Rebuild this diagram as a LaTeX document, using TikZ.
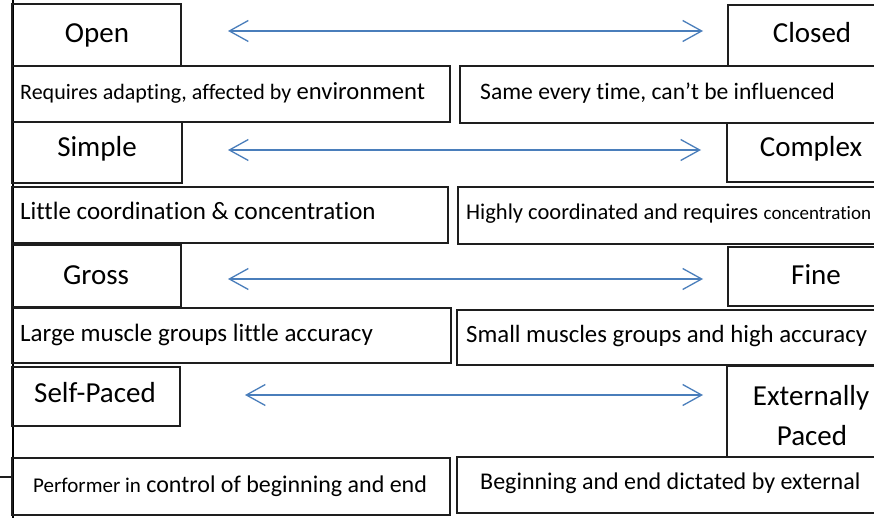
\documentclass[tikz,border=0pt]{standalone}
\usepackage{fontspec}
\setmainfont{Carlito}[Ligatures={NoCommon}]
\usetikzlibrary{arrows.meta}
\definecolor{arrblue}{RGB}{74,126,187}
\definecolor{ln}{RGB}{30,30,30}
\newcommand{\fsz}[1]{\fontsize{#1}{#1}\selectfont}
\begin{document}
\begin{tikzpicture}[x=1pt,y=-1pt,
  bx/.style={draw=ln,line width=1.2pt},
  lab/.style={anchor=base,inner sep=0pt,font=\fontsize{29}{33}\selectfont},
  dsc/.style={anchor=base west,inner sep=0pt,font=\fontsize{24}{28}\selectfont},
  arr/.style={draw=arrblue,line width=1.3pt,{Straight Barb[length=19pt,width=21pt]}-{Straight Barb[length=19pt,width=21pt]}}]
\useasboundingbox (0,0) rectangle (874,518);
\clip (0,0) rectangle (874,518);
\fill[white] (0,0) rectangle (874,518);
% frame line on the left
\draw[black,line width=2pt] (12.5,0) -- (12.5,518);
\draw[ln,line width=1.2pt] (0,477) -- (12.5,477);
% row 1
\draw[bx] (12,4) rectangle (181,66);
\draw[bx] (728,5) rectangle (880,66);
\draw[bx] (12,66) rectangle (450,122);
\draw[bx] (460,66) rectangle (880,123);
\node[lab] (open) at (97,43) {Open};
\node[lab] (closed) at (812,43) {Closed};
\node[dsc] (d1l) at (20,100) {{\fsz{22}Requires adapting, affected by} {\fsz{24.6}environment}};
\node[dsc] (d1r) at (480,100) {\fsz{23.6}Same every time, can’t be influenced};
\coordinate (a1l) at (228,31);
\coordinate (a1r) at (703,31);
\draw[arr] (a1l) -- (a1r);
% row 2
\draw[bx] (12,122) rectangle (182,183);
\draw[bx] (727,123) rectangle (880,182);
\draw[bx] (12,187) rectangle (448,243);
\draw[bx] (458,187) rectangle (880,244);
\node[lab] (simple) at (97,157) {Simple};
\node[lab] (complex) at (811,157) {Complex};
\node[dsc] (d2l) at (20,220) {\fsz{25}Little coordination \& concentration};
\node[dsc] (d2r) at (466,220) {{\fsz{22.5}Highly coordinated and requires} {\fsz{19}concentration}};
\coordinate (a2l) at (228,150);
\coordinate (a2r) at (701,150);
\draw[arr] (a2l) -- (a2r);
% row 3
\draw[bx] (12,245) rectangle (181,307);
\draw[bx] (728,247) rectangle (880,306);
\draw[bx] (12,308) rectangle (451,363);
\draw[bx] (457,310) rectangle (880,365);
\node[lab] (gross) at (96,284) {Gross};
\node[lab] (fine) at (816,284) {Fine};
\node[dsc] (d3l) at (20,341) {\fsz{25}Large muscle groups little accuracy};
\node[dsc] (d3r) at (466,342) {\fsz{24.8}Small muscles groups and high accuracy};
\coordinate (a3l) at (228,279);
\coordinate (a3r) at (703,279);
\draw[arr] (a3l) -- (a3r);
% row 4
\draw[bx] (12,367) rectangle (180,426);
\draw[bx] (727,366) rectangle (880,457);
\draw[bx] (12,458) rectangle (450,515);
\draw[bx] (457,457) rectangle (880,513);
\node[lab] (self) at (95,402) {Self-Paced};
\node[lab] (ext1) at (811,405) {Externally};
\node[lab] (ext2) at (812,445) {Paced};
\node[dsc] (d4l) at (33,492) {{\fsz{21}Performer in} control of beginning and end};
\node[dsc] (d4r) at (480,489) {Beginning and end dictated by external};
\coordinate (a4l) at (245,395);
\coordinate (a4r) at (703,395);
\draw[arr] (a4l) -- (a4r);
\end{tikzpicture}
\end{document}
